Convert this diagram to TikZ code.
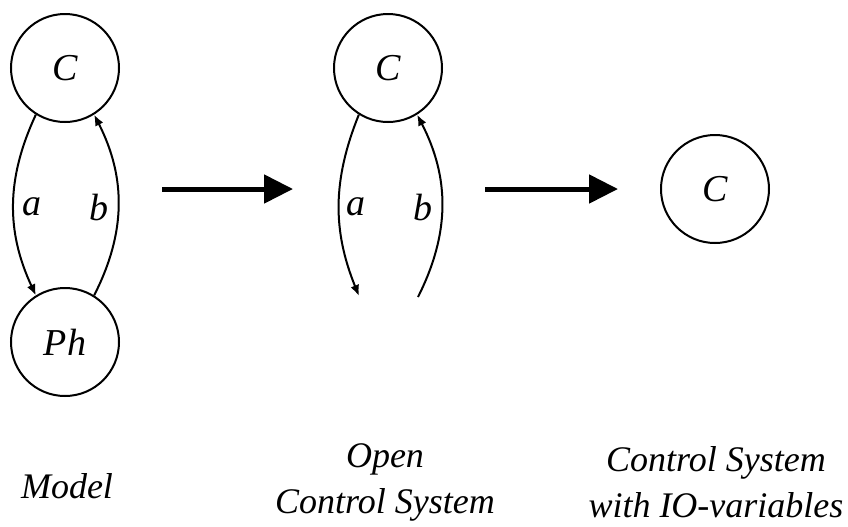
\documentclass[tikz,border=0pt]{standalone}
\usepackage{fontspec}
\setmainfont{Liberation Serif}
\usetikzlibrary{arrows.meta, positioning}

\begin{document}
\begin{tikzpicture}[x=0.5pt, y=0.5pt, line width=1pt,
    every node/.style={font=\fontsize{19}{23}\selectfont\itshape, inner sep=1pt},
    state/.style={circle, draw, minimum size=54pt},
    caption/.style={align=center, font=\fontsize{18}{23}\selectfont\itshape},
    flow/.style={-{Latex[length=5.5pt, width=4.5pt]}},
    bigarrow/.style={line width=2.5pt, -{Triangle[length=14.5pt, width=14pt]}}]

        \useasboundingbox (0,0) rectangle (848,-526);

        % Model: controller and plant
        \node[state] (C1) at (65,-68) {C};
        \node[state] (Ph) at (65,-342) {Ph};
        \draw[flow] (C1.238) to[bend right=25] (Ph.122);
        \draw[flow] (Ph.58) to[bend right=27] (C1.302);
        \node (a1) at (32,-207) {a};
        \node (b1) at (99,-207) {b};

        % Open control system
        \node[state] (C2) at (388,-68) {C};
        \coordinate (aout) at (359,-296);
        \coordinate (bin) at (418,-297);
        \draw[flow] (C2.238) to[bend right=22] (aout);
        \draw[flow] (bin) to[bend right=27] (C2.302);
        \node (a2) at (356,-207) {a};
        \node (b2) at (423,-207) {b};

        % Control system with IO-variables
        \node[state] (C3) at (715,-189) {C};

        % Transformation steps
        \coordinate (s1) at (162,-189);
        \coordinate (e1) at (293,-189);
        \coordinate (s2) at (485,-189);
        \coordinate (e2) at (618,-189);
        \draw[bigarrow] (s1) -- (e1);
        \draw[bigarrow] (s2) -- (e2);

        % Captions
        \node[caption] (model) at (67,-486) {Model};
        \node[caption] (open) at (385,-482) {Open\\Control System};
        \node[caption] (iosys) at (716,-482) {Control System\\with IO-variables};

    \end{tikzpicture}
\end{document}
